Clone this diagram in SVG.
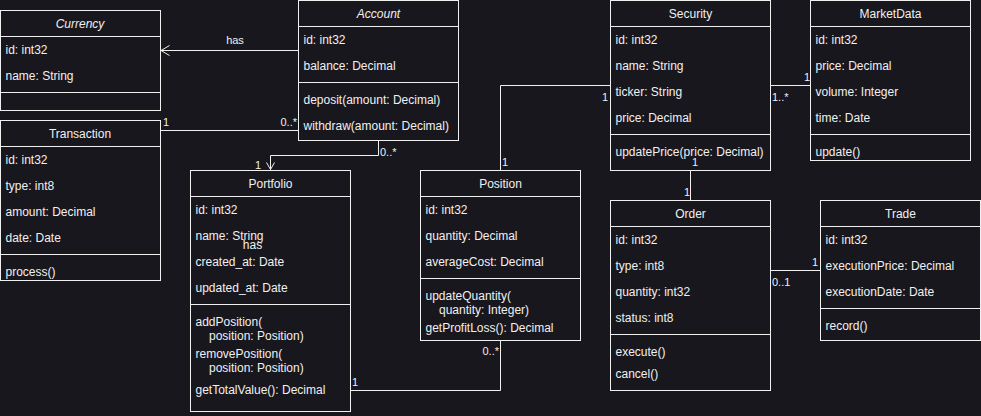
<svg xmlns="http://www.w3.org/2000/svg" width="981" height="416" viewBox="0 0 981 416">
<style>
.bg{fill:#19171e}
.box{fill:none;stroke:#f0f0f0;stroke-width:1}
.ln{fill:none;stroke:#f0f0f0;stroke-width:1}
text{font-family:"Liberation Sans",Arial,sans-serif;font-size:12px;fill:#f0f0f0}
.t{text-anchor:middle}
.it{font-style:italic}
.lbl{font-size:11px}
.mid{text-anchor:middle}
.end{text-anchor:end}
</style>
<rect class="bg" x="0" y="0" width="981" height="416"/>

<g id="connectors">
  <path class="ln" d="M298,50.5 H161"/>
  <polyline class="ln" points="169.5,45.5 161,50.5 169.5,55.5"/>
  <path class="ln" d="M160.5,130.5 H298"/>
  <path class="ln" d="M378.5,140 V155.5 H270.5 V169.5"/>
  <polyline class="ln" points="266.5,162.5 270.5,169.5 274.5,162.5"/>
  <path class="ln" d="M350.5,390.5 H500.5 V340.5"/>
  <path class="ln" d="M610,85.5 H500.5 V170"/>
  <path class="ln" d="M770.5,85.5 H810"/>
  <path class="ln" d="M690.5,170 V200"/>
  <path class="ln" d="M770.5,270.5 H820"/>
  <text class="lbl mid" x="235" y="44">has</text>
  <text class="lbl" x="163" y="126">1</text>
  <text class="lbl end" x="297" y="126">0..*</text>
  <text class="lbl" x="380" y="156">0..*</text>
  <text class="lbl" x="255" y="169">1</text>
  <text class="lbl" x="352" y="386">1</text>
  <text class="lbl end" x="499" y="355">0..*</text>
  <text class="lbl" x="602" y="101">1</text>
  <text class="lbl" x="502" y="166">1</text>
  <text class="lbl" x="772" y="101">1..*</text>
  <text class="lbl" x="804" y="81">1</text>
  <text class="lbl" x="692" y="166">1</text>
  <text class="lbl" x="684" y="196">1</text>
  <text class="lbl" x="772" y="286">0..1</text>
  <text class="lbl" x="812" y="266">1</text>
</g>

<g id="Currency">
  <rect class="box" x="0.5" y="10.5" width="160" height="100"/>
  <path class="ln" d="M0.5,36.5 H160.5 M0.5,92.5 H160.5"/>
  <text class="t it" x="80" y="28.3">Currency</text>
  <text x="5.5" y="54.3">id: int32</text>
  <text x="5.5" y="80.3">name: String</text>
</g>

<g id="Account">
  <rect class="box" x="298.5" y="0.5" width="160" height="140"/>
  <path class="ln" d="M298.5,26.5 H458.5 M298.5,82.5 H458.5"/>
  <text class="t it" x="378.5" y="18.3">Account</text>
  <text x="303.5" y="44.3">id: int32</text>
  <text x="303.5" y="70.3">balance: Decimal</text>
  <text x="303.5" y="104.3">deposit(amount: Decimal)</text>
  <text x="303.5" y="130.3">withdraw(amount: Decimal)</text>
</g>

<g id="Transaction">
  <rect class="box" x="0.5" y="120.5" width="160" height="160"/>
  <path class="ln" d="M0.5,146.5 H160.5 M0.5,254.5 H160.5"/>
  <text class="t" x="80" y="138.3">Transaction</text>
  <text x="5.5" y="164.3">id: int32</text>
  <text x="5.5" y="190.3">type: int8</text>
  <text x="5.5" y="216.3">amount: Decimal</text>
  <text x="5.5" y="242.3">date: Date</text>
  <text x="5.5" y="276">process()</text>
</g>

<g id="Portfolio">
  <rect class="box" x="190.5" y="170.5" width="160" height="241"/>
  <path class="ln" d="M190.5,196.5 H350.5 M190.5,304.5 H350.5"/>
  <text class="t" x="270.5" y="188.3">Portfolio</text>
  <text x="195.5" y="214.3">id: int32</text>
  <text x="195.5" y="240.3">name: String</text>
  <text class="t" x="252.5" y="249">has</text>
  <text x="195.5" y="266.3">created_at: Date</text>
  <text x="195.5" y="292.3">updated_at: Date</text>
  <text x="195.5" y="326.3">addPosition(</text>
  <text x="209" y="340">position: Position)</text>
  <text x="195.5" y="358.3">removePosition(</text>
  <text x="209" y="372.3">position: Position)</text>
  <text x="195.5" y="394">getTotalValue(): Decimal</text>
</g>

<g id="Position">
  <rect class="box" x="420.5" y="170.5" width="160" height="170"/>
  <path class="ln" d="M420.5,196.5 H580.5 M420.5,278.5 H580.5"/>
  <text class="t" x="500.5" y="188.3">Position</text>
  <text x="425.5" y="214.3">id: int32</text>
  <text x="425.5" y="240.3">quantity: Decimal</text>
  <text x="425.5" y="266.3">averageCost: Decimal</text>
  <text x="425.5" y="300">updateQuantity(</text>
  <text x="439" y="314.3">quantity: Integer)</text>
  <text x="425.5" y="331.7">getProfitLoss(): Decimal</text>
</g>

<g id="Security">
  <rect class="box" x="610.5" y="0.5" width="160" height="170"/>
  <path class="ln" d="M610.5,26.5 H770.5 M610.5,134.5 H770.5"/>
  <text class="t" x="690.5" y="18.3">Security</text>
  <text x="615.5" y="44.3">id: int32</text>
  <text x="615.5" y="70.3">name: String</text>
  <text x="615.5" y="96.3">ticker: String</text>
  <text x="615.5" y="122.3">price: Decimal</text>
  <text x="615.5" y="156.3">updatePrice(price: Decimal)</text>
</g>

<g id="MarketData">
  <rect class="box" x="810.5" y="0.5" width="160" height="160"/>
  <path class="ln" d="M810.5,26.5 H970.5 M810.5,134.5 H970.5"/>
  <text class="t" x="890.5" y="18.3">MarketData</text>
  <text x="815.5" y="44.3">id: int32</text>
  <text x="815.5" y="70.3">price: Decimal</text>
  <text x="815.5" y="96.3">volume: Integer</text>
  <text x="815.5" y="122.3">time: Date</text>
  <text x="815.5" y="156.3">update()</text>
</g>

<g id="Order">
  <rect class="box" x="610.5" y="200.5" width="160" height="190"/>
  <path class="ln" d="M610.5,226.5 H770.5 M610.5,334.5 H770.5"/>
  <text class="t" x="690.5" y="218.3">Order</text>
  <text x="615.5" y="244.3">id: int32</text>
  <text x="615.5" y="270.3">type: int8</text>
  <text x="615.5" y="296.3">quantity: int32</text>
  <text x="615.5" y="322.3">status: int8</text>
  <text x="615.5" y="356.3">execute()</text>
  <text x="615.5" y="378">cancel()</text>
</g>

<g id="Trade">
  <rect class="box" x="820.5" y="200.5" width="160" height="140"/>
  <path class="ln" d="M820.5,226.5 H980.5 M820.5,308.5 H980.5"/>
  <text class="t" x="900.5" y="218.3">Trade</text>
  <text x="825.5" y="244.3">id: int32</text>
  <text x="825.5" y="270.3">executionPrice: Decimal</text>
  <text x="825.5" y="296.3">executionDate: Date</text>
  <text x="825.5" y="330">record()</text>
</g>
</svg>
